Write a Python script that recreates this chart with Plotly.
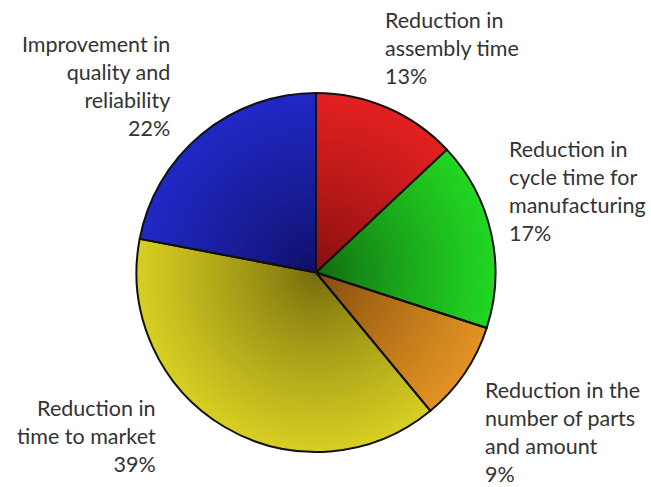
import plotly.graph_objects as go

# Share of benefits reported (percent), clockwise from 12 o'clock
labels = [
    "Reduction in<br>assembly time",
    "Reduction in<br>cycle time for<br>manufacturing",
    "Reduction in the<br>number of parts<br>and amount",
    "Reduction in<br>time to market",
    "Improvement in<br>quality and<br>reliability",
]
values = [13, 17, 9, 39, 22]

# rim (bright) and centre (dark) colour of each slice
rim_colors = [(226, 32, 32), (34, 214, 34), (226, 146, 34), (214, 206, 34), (32, 40, 196)]
core_colors = [(128, 14, 14), (16, 100, 16), (122, 70, 12), (112, 102, 12), (14, 14, 96)]

W, H = 651, 487
CX, CY, R = 316, 272.5, 179.5  # pie centre and radius in pixels


def domain(radius):
    return dict(
        x=[(CX - radius) / W, (CX + radius) / W],
        y=[(H - CY - radius) / H, (H - CY + radius) / H],
    )


def mix(a, b, t):
    return "rgb(%d,%d,%d)" % tuple(round(a[i] + (b[i] - a[i]) * t) for i in range(3))


fig = go.Figure()

# radial shading: concentric pies from rim inwards, each a little darker
N = 40
for k in range(N):
    frac = 1 - k / N
    t = frac ** 0.8
    fig.add_trace(go.Pie(
        values=values, sort=False, direction="clockwise", rotation=0,
        domain=domain(R * frac),
        marker=dict(colors=[mix(c, r, t) for c, r in zip(core_colors, rim_colors)],
                    line=dict(width=0)),
        textinfo="none", hoverinfo="skip", showlegend=False,
    ))

# slice outlines
fig.add_trace(go.Pie(
    values=values, sort=False, direction="clockwise", rotation=0,
    domain=domain(R),
    marker=dict(colors=["rgba(0,0,0,0)"] * len(values), line=dict(color="#111111", width=2)),
    textinfo="none", hoverinfo="skip", showlegend=False,
))

# slice labels: (x, y of first line centre, alignment)
label_pos = [
    (383, 18, "left"),
    (507, 147, "left"),
    (483, 388, "left"),
    (158, 406, "right"),
    (172, 42, "right"),
]
font = dict(family="Lato", size=21.5, color="#333333")
for lab, val, (x, y, al) in zip(labels, values, label_pos):
    fig.add_annotation(
        x=x / W, y=1 - (y - 13) / H, xref="paper", yref="paper",
        text=f"{lab}<br>{val}%", showarrow=False, align=al,
        xanchor="left" if al == "left" else "right", yanchor="top",
        font=font,
    )

fig.update_layout(
    width=W, height=H, margin=dict(l=0, r=0, t=0, b=0),
    paper_bgcolor="white", plot_bgcolor="white",
)

fig.write_html("out.html")
